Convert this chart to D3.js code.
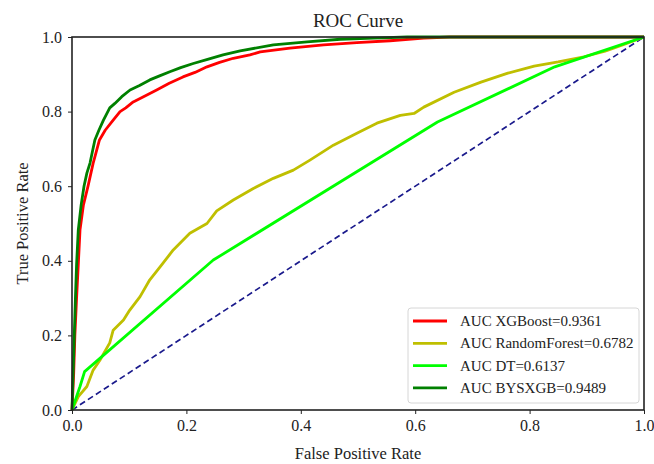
<html>
<head>
    <title>ROC Curve</title>
    <script src='https://d3js.org/d3.v7.min.js'></script>
    <style>
        body { margin: 0; background: #fff; }
        text { font-family: 'Liberation Serif', 'DejaVu Serif', serif; fill: #222; }
    </style>
</head>
<body>
    <script>
        // ROC points, [fpr, tpr]
        var xgboost = [[0,0],[0.003,0.1],[0.005,0.2],[0.008,0.3],[0.011,0.39],[0.014,0.483],[0.02,0.55],[0.028,0.6],
            [0.037,0.662],[0.042,0.69],[0.048,0.724],[0.058,0.75],[0.072,0.777],[0.084,0.8],[0.094,0.81],[0.107,0.826],
            [0.125,0.84],[0.148,0.858],[0.17,0.876],[0.194,0.893],[0.215,0.905],[0.236,0.92],[0.258,0.932],[0.282,0.943],
            [0.311,0.952],[0.329,0.96],[0.381,0.97],[0.44,0.979],[0.498,0.985],[0.556,0.99],[0.615,0.997],[0.66,1],[1,1]];
        var randomForest = [[0,0],[0.011,0.036],[0.026,0.063],[0.037,0.107],[0.049,0.134],[0.066,0.18],[0.072,0.214],
            [0.09,0.241],[0.101,0.268],[0.119,0.304],[0.136,0.349],[0.154,0.384],[0.177,0.429],[0.206,0.474],[0.236,0.5],
            [0.253,0.534],[0.282,0.563],[0.317,0.594],[0.352,0.621],[0.387,0.643],[0.416,0.67],[0.457,0.71],[0.498,0.742],
            [0.533,0.769],[0.574,0.79],[0.598,0.795],[0.615,0.812],[0.668,0.852],[0.715,0.879],[0.762,0.903],[0.808,0.922],
            [0.85,0.933],[0.895,0.947],[0.932,0.962],[0.965,0.98],[1,1]];
        var dt = [[0,0],[0.014,0.063],[0.022,0.103],[0.247,0.402],[0.639,0.772],[0.844,0.92],[1,1]];
        var bysxgb = [[0,0],[0.002,0.1],[0.004,0.2],[0.006,0.3],[0.008,0.39],[0.011,0.483],[0.016,0.55],[0.021,0.6],
            [0.026,0.635],[0.0315,0.662],[0.036,0.695],[0.04,0.724],[0.047,0.75],[0.055,0.777],[0.066,0.81],[0.075,0.822],
            [0.087,0.84],[0.1015,0.858],[0.118,0.87],[0.136,0.885],[0.152,0.895],[0.171,0.907],[0.19,0.918],[0.212,0.929],
            [0.237,0.94],[0.264,0.952],[0.294,0.963],[0.352,0.979],[0.411,0.987],[0.469,0.994],[0.527,0.997],[0.586,1],[1,1]];
        var chance = [[0,0],[1,1]];

        var names = ['AUC XGBoost=0.9361', 'AUC RandomForest=0.6782', 'AUC DT=0.6137', 'AUC BYSXGB=0.9489'];
        var colors = ['#ff0000', '#bfbf00', '#00ff00', '#008000'];
        var tickValues = [0, 0.2, 0.4, 0.6, 0.8, 1.0];

        var width = 654,
            height = 464;
        var margin = { top: 37, right: 10, bottom: 54, left: 72 };
        var w = 644 - margin.left,
            h = 410 - margin.top;

        var svg = d3.select('body')
            .append('svg')
            .attr('width', width)
            .attr('height', height);

        var x = d3.scaleLinear().domain([0, 1]).range([margin.left, margin.left + w]);
        var y = d3.scaleLinear().domain([0, 1]).range([margin.top + h, margin.top]);

        var line = d3.line()
            .x(d => x(d[0]))
            .y(d => y(d[1]));

        var plot = svg.append('g');

        plot.append('path')
            .datum(chance)
            .attr('fill', 'none')
            .attr('stroke', '#1a1a8c')
            .attr('stroke-width', 1.7)
            .attr('stroke-dasharray', '6 3.5')
            .attr('d', line);

        var series = [xgboost, randomForest, dt, bysxgb];
        plot.selectAll('path.roc')
            .data(series)
            .enter()
            .append('path')
            .attr('class', 'roc')
            .attr('fill', 'none')
            .attr('stroke', (d, i) => colors[i])
            .attr('stroke-width', 2.8)
            .attr('stroke-linejoin', 'round')
            .attr('d', line);

        // axes
        svg.append('g')
            .attr('transform', 'translate(0,' + (margin.top + h) + ')')
            .call(d3.axisBottom(x).tickValues(tickValues).tickFormat(d3.format('.1f')).tickSize(4).tickPadding(6));
        svg.append('g')
            .attr('transform', 'translate(' + margin.left + ',0)')
            .call(d3.axisLeft(y).tickValues(tickValues).tickFormat(d3.format('.1f')).tickSize(4).tickPadding(6));

        svg.selectAll('.domain').remove();
        svg.selectAll('.tick line').attr('stroke', '#222');
        svg.selectAll('.tick text')
            .style('font-family', "'Liberation Serif', serif")
            .style('font-size', '16px')
            .attr('fill', '#222');

        // frame
        svg.append('rect')
            .attr('x', margin.left)
            .attr('y', margin.top)
            .attr('width', w)
            .attr('height', h)
            .attr('fill', 'none')
            .attr('stroke', '#222')
            .attr('stroke-width', 1.6);

        svg.append('text')
            .attr('x', margin.left + w / 2)
            .attr('y', 27)
            .attr('text-anchor', 'middle')
            .style('font-size', '19px')
            .text('ROC Curve');

        svg.append('text')
            .attr('x', margin.left + w / 2)
            .attr('y', 459)
            .attr('text-anchor', 'middle')
            .style('font-size', '16.5px')
            .text('False Positive Rate');

        svg.append('text')
            .attr('transform', 'translate(28,' + (margin.top + h / 2) + ') rotate(-90)')
            .attr('text-anchor', 'middle')
            .style('font-size', '16.5px')
            .text('True Positive Rate');

        // legend
        var legend = svg.append('g');
        legend.append('rect')
            .attr('x', 408)
            .attr('y', 308)
            .attr('width', 231)
            .attr('height', 95)
            .attr('rx', 3)
            .attr('fill', '#fff')
            .attr('fill-opacity', 0.8)
            .attr('stroke', '#d6d6d6');

        var items = legend.selectAll('g.item')
            .data(names)
            .enter()
            .append('g')
            .attr('class', 'item')
            .attr('transform', (d, i) => 'translate(0,' + (321 + i * 22.3) + ')');

        items.append('line')
            .attr('x1', 413)
            .attr('x2', 447)
            .attr('stroke', (d, i) => colors[i])
            .attr('stroke-width', 2.8);

        items.append('text')
            .attr('x', 460)
            .attr('y', 5)
            .style('font-size', '15px')
            .text(d => d);
    </script>
</body>
</html>
